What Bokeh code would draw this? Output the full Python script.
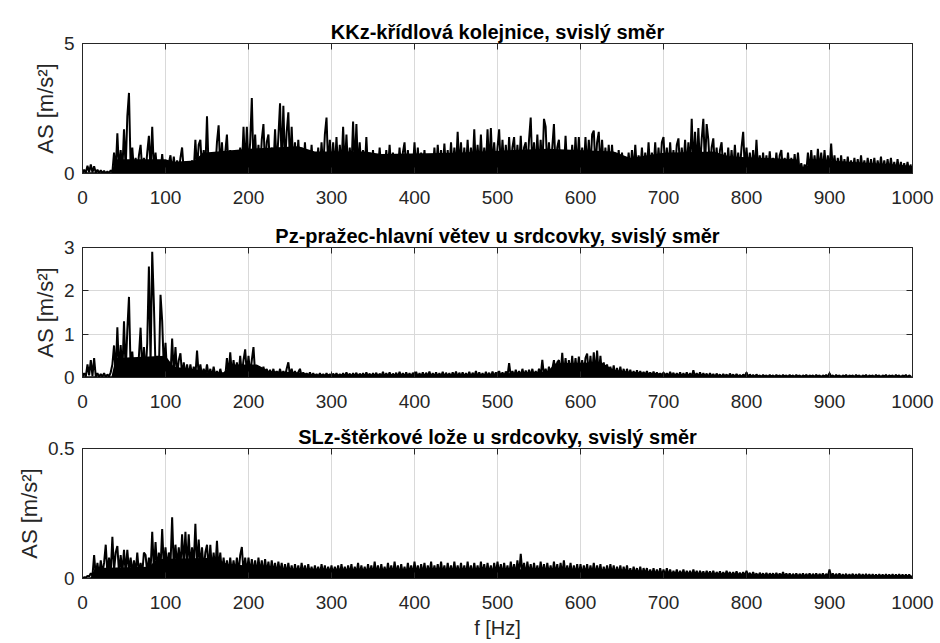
import numpy as np
from bokeh.plotting import figure
from bokeh.layouts import column
from bokeh.models import LinearAxis, FixedTicker, Range1d
from bokeh.embed import file_html
from bokeh.resources import INLINE

# ---------------- data ----------------
freq_step_hz = 2  # spacing of the listed spectrum values

titles = [
    "KKz-křídlová kolejnice, svislý směr",
    "Pz-pražec-hlavní větev u srdcovky, svislý směr",
    "SLz-štěrkové lože u srdcovky, svislý směr",
]
y_label = "AS [m/s²]"
x_label = "f [Hz]"
x_ticks = [0, 100, 200, 300, 400, 500, 600, 700, 800, 900, 1000]

kk_ticks = [0, 5]
pz_ticks = [0, 1, 2, 3]
sl_ticks = [0, 0.5]

kk_amp = [
    0.02,0.15,0.03,0.3,0.05,0.35,0.04,0.28,0.03,0.15,0.02,0.12,0.02,0.1,0.01,0.08,0.02,0.12,0.05,0.8,0.08,1.55,0.1,0.9,0.1,
    1.7,0.15,2.2,3.1,0.2,1.0,0.08,0.6,0.05,0.7,1.1,0.1,0.6,0.05,0.8,1.45,0.12,1.8,0.1,0.8,0.05,0.5,0.04,0.75,0.05,
    0.5,0.05,0.4,0.7,0.06,0.65,0.04,0.5,0.05,0.6,1.0,0.08,0.45,0.04,0.4,0.06,0.5,0.08,1.3,0.15,1.1,1.3,0.12,0.9,0.15,
    2.2,0.12,0.6,0.06,0.7,0.1,1.2,1.85,0.15,1.2,0.1,0.8,1.5,0.1,0.9,0.08,0.6,0.05,0.55,0.1,1.0,0.12,1.8,0.15,1.8,
    0.2,1.2,2.9,0.25,1.5,0.15,1.1,0.1,1.3,1.9,0.2,1.2,1.5,0.15,1.0,0.2,1.7,0.25,1.4,2.7,0.3,2.6,0.3,1.6,2.35,
    0.25,1.8,0.2,1.2,0.1,1.3,0.15,1.0,0.1,1.2,0.12,0.9,0.08,1.1,0.1,0.8,0.06,1.0,0.1,1.2,0.15,1.5,2.15,0.2,1.3,
    0.1,1.2,0.15,1.4,0.1,1.1,0.2,1.8,0.15,1.5,0.1,1.0,0.15,2.0,0.2,1.9,0.15,1.2,0.1,0.9,0.08,1.4,0.1,0.8,0.06,
    0.9,0.07,0.7,0.08,1.0,0.1,0.6,0.06,0.9,0.1,1.1,0.1,0.8,0.06,0.7,0.08,1.0,0.1,0.8,1.2,0.1,0.9,0.06,0.7,0.1,
    1.2,0.1,1.0,0.06,0.8,0.1,0.9,0.05,0.6,0.04,0.7,0.1,1.0,0.1,1.1,0.15,0.9,0.1,1.15,0.15,0.9,0.1,1.2,0.15,1.0,
    0.15,1.6,0.2,1.2,0.1,1.0,0.15,1.3,0.15,1.0,0.2,1.7,0.15,1.1,0.2,1.5,0.15,1.0,0.2,1.7,0.15,1.75,0.2,1.2,0.15,
    1.0,1.7,0.15,1.3,0.2,1.1,0.1,1.4,0.15,1.0,1.4,0.15,1.1,0.2,1.45,0.15,1.0,1.2,0.15,1.3,2.15,0.2,1.2,0.15,1.5,
    0.2,1.3,0.15,2.1,1.8,0.15,1.2,0.1,1.0,1.9,0.15,1.0,1.3,0.1,0.9,0.1,1.45,0.15,0.9,0.1,1.1,0.1,1.4,0.15,1.4,
    0.1,1.0,0.15,1.4,0.2,1.3,0.15,1.5,1.65,0.2,1.2,1.6,0.2,1.3,0.15,1.0,0.1,1.1,0.1,1.1,0.1,0.8,0.06,0.9,0.1,
    0.8,0.06,0.6,0.06,0.8,0.08,0.9,0.1,1.1,0.1,0.7,0.06,1.0,0.1,0.8,0.1,1.2,0.1,0.8,0.1,1.2,0.1,1.0,0.1,1.2,
    1.4,0.15,1.0,0.1,1.2,0.15,0.9,0.1,1.1,1.35,0.15,1.0,0.15,1.3,0.2,1.2,0.2,2.1,0.25,1.6,0.2,1.75,0.2,1.3,2.1,
    0.25,1.9,1.3,0.15,1.0,1.35,0.15,1.0,0.1,0.9,1.2,0.1,0.8,0.1,1.0,0.1,0.9,0.1,1.1,0.1,0.8,0.1,1.0,1.6,0.15,
    1.0,0.1,0.8,0.08,0.9,0.1,1.3,0.1,0.7,0.06,0.8,0.06,0.7,0.08,0.85,0.06,0.6,0.06,0.8,0.06,0.7,0.9,0.06,0.6,0.06,
    0.8,0.06,0.6,0.06,0.75,0.06,0.8,0.04,0.4,0.03,0.35,0.04,0.8,0.06,0.9,0.1,0.7,0.06,0.95,0.1,0.8,0.06,0.9,0.1,0.7,
    0.1,1.15,0.1,0.7,0.06,0.6,0.06,0.7,0.05,0.55,0.06,0.65,0.05,0.5,0.06,0.6,0.05,0.55,0.06,0.7,0.06,0.5,0.05,0.6,0.06,
    0.55,0.05,0.6,0.06,0.5,0.05,0.65,0.06,0.5,0.05,0.55,0.05,0.6,0.06,0.45,0.05,0.55,0.04,0.45,0.05,0.4,0.04,0.45,0.04,0.35,
]
# upper edge of the solid dark band of the trace
kk_band_f = [0, 35, 40, 100, 110, 135, 145, 200, 260, 280, 340, 360, 450, 520, 560, 640, 660, 700, 760, 780, 860, 865, 872, 880, 900, 1000]
kk_band = [0.05, 0.05, 0.55, 0.55, 0.45, 0.5, 0.8, 0.95, 1.05, 0.85, 0.85, 0.75, 0.8, 0.9, 0.95, 0.85, 0.6, 0.8, 0.85, 0.65, 0.55, 0.25, 0.25, 0.55, 0.5, 0.3]

pz_amp = [
    0.02,0.1,0.02,0.3,0.05,0.4,0.03,0.45,0.02,0.1,0.01,0.08,0.02,0.1,0.01,0.07,0.02,0.12,0.3,0.74,0.05,1.16,0.1,0.75,0.08,
    1.3,0.1,1.1,1.86,0.15,0.6,0.05,0.4,0.05,0.5,1.15,0.1,0.7,0.05,0.8,2.56,0.3,2.9,1.7,0.2,0.5,0.1,1.91,1.3,0.2,
    0.8,0.05,0.3,0.05,0.9,0.08,0.7,0.05,0.4,0.56,0.04,0.35,0.05,0.3,0.03,0.3,0.04,0.25,0.04,0.62,0.05,0.3,0.03,0.2,0.04,
    0.3,0.03,0.2,0.02,0.25,0.03,0.15,0.02,0.2,0.03,0.1,0.02,0.45,0.05,0.58,0.06,0.4,0.05,0.35,0.04,0.5,0.06,0.4,0.65,0.08,
    0.5,0.06,0.4,0.7,0.08,0.25,0.03,0.2,0.03,0.25,0.03,0.2,0.02,0.18,0.03,0.2,0.02,0.15,0.03,0.2,0.02,0.15,0.03,0.2,0.35,
    0.04,0.2,0.03,0.15,0.02,0.12,0.2,0.03,0.12,0.02,0.1,0.02,0.12,0.02,0.1,0.02,0.08,0.01,0.1,0.02,0.08,0.01,0.1,0.02,0.08,
    0.01,0.09,0.02,0.1,0.01,0.08,0.02,0.1,0.01,0.12,0.02,0.09,0.01,0.1,0.02,0.11,0.01,0.09,0.02,0.1,0.01,0.12,0.02,0.09,0.01,
    0.1,0.02,0.11,0.01,0.09,0.02,0.13,0.01,0.1,0.02,0.12,0.01,0.09,0.02,0.11,0.01,0.13,0.02,0.1,0.01,0.12,0.02,0.1,0.01,0.11,
    0.02,0.13,0.01,0.1,0.02,0.12,0.01,0.11,0.02,0.14,0.01,0.1,0.02,0.12,0.01,0.1,0.02,0.13,0.01,0.11,0.02,0.1,0.01,0.12,0.02,
    0.14,0.01,0.11,0.02,0.12,0.01,0.1,0.02,0.13,0.01,0.11,0.02,0.15,0.01,0.12,0.02,0.1,0.01,0.13,0.02,0.11,0.01,0.14,0.02,0.12,
    0.02,0.15,0.02,0.12,0.02,0.14,0.03,0.33,0.03,0.15,0.02,0.18,0.03,0.15,0.02,0.2,0.03,0.16,0.02,0.18,0.03,0.2,0.02,0.15,0.03,
    0.2,0.03,0.41,0.04,0.2,0.03,0.25,0.04,0.2,0.4,0.05,0.35,0.4,0.06,0.57,0.05,0.45,0.06,0.4,0.05,0.5,0.06,0.45,0.05,0.48,
    0.06,0.4,0.05,0.45,0.55,0.06,0.5,0.05,0.58,0.06,0.62,0.05,0.5,0.04,0.35,0.04,0.3,0.03,0.25,0.03,0.28,0.03,0.22,0.02,0.25,
    0.03,0.2,0.02,0.2,0.03,0.18,0.02,0.15,0.02,0.17,0.02,0.15,0.02,0.13,0.02,0.15,0.02,0.12,0.02,0.14,0.02,0.12,0.02,0.1,0.02,
    0.12,0.02,0.1,0.01,0.13,0.02,0.11,0.01,0.1,0.02,0.12,0.01,0.1,0.02,0.12,0.01,0.1,0.02,0.17,0.01,0.1,0.02,0.12,0.01,0.1,
    0.02,0.09,0.01,0.1,0.02,0.08,0.01,0.09,0.02,0.07,0.01,0.08,0.02,0.07,0.01,0.09,0.02,0.07,0.01,0.08,0.02,0.06,0.01,0.07,0.02,
    0.12,0.01,0.07,0.02,0.06,0.01,0.07,0.02,0.05,0.01,0.06,0.02,0.05,0.01,0.06,0.02,0.05,0.01,0.06,0.02,0.05,0.01,0.06,0.02,0.05,
    0.01,0.06,0.02,0.05,0.01,0.06,0.02,0.05,0.01,0.05,0.02,0.06,0.01,0.05,0.02,0.05,0.01,0.06,0.02,0.05,0.01,0.05,0.02,0.06,0.01,
    0.1,0.02,0.05,0.01,0.06,0.02,0.05,0.01,0.05,0.02,0.06,0.01,0.05,0.02,0.05,0.01,0.06,0.02,0.05,0.01,0.05,0.02,0.06,0.01,0.05,
    0.02,0.05,0.01,0.06,0.02,0.05,0.01,0.05,0.02,0.06,0.01,0.05,0.02,0.05,0.01,0.06,0.02,0.05,0.01,0.05,0.02,0.06,0.01,0.05,0.02,
]
pz_band_f = [0, 35, 40, 100, 110, 140, 150, 170, 180, 210, 225, 260, 280, 500, 520, 560, 570, 625, 640, 660, 700, 760, 1000]
pz_band = [0.03, 0.03, 0.45, 0.5, 0.25, 0.18, 0.12, 0.12, 0.3, 0.3, 0.15, 0.12, 0.07, 0.08, 0.11, 0.14, 0.33, 0.35, 0.18, 0.13, 0.09, 0.05, 0.03]

sl_amp = [
    0.0,0.005,0.004,0.01,0.008,0.02,0.01,0.09,0.01,0.06,0.01,0.07,0.02,0.06,0.13,0.02,0.08,0.02,0.16,0.03,0.1,0.125,0.02,0.09,0.02,
    0.11,0.02,0.11,0.03,0.08,0.02,0.07,0.02,0.1,0.02,0.06,0.02,0.1,0.09,0.02,0.08,0.03,0.18,0.03,0.14,0.03,0.1,0.04,0.19,0.04,
    0.12,0.04,0.1,0.05,0.235,0.04,0.13,0.05,0.12,0.04,0.17,0.05,0.18,0.04,0.17,0.04,0.12,0.05,0.21,0.04,0.15,0.04,0.12,0.03,0.1,
    0.13,0.03,0.13,0.03,0.1,0.03,0.145,0.03,0.1,0.02,0.08,0.02,0.07,0.02,0.08,0.02,0.07,0.02,0.08,0.02,0.09,0.121,0.02,0.08,0.02,
    0.08,0.02,0.075,0.02,0.07,0.015,0.08,0.02,0.07,0.015,0.075,0.02,0.065,0.015,0.07,0.02,0.06,0.015,0.065,0.02,0.06,0.01,0.055,0.015,0.06,
    0.015,0.05,0.01,0.055,0.015,0.05,0.01,0.06,0.015,0.05,0.01,0.055,0.015,0.045,0.01,0.05,0.015,0.045,0.01,0.055,0.015,0.05,0.01,0.045,0.015,
    0.05,0.01,0.045,0.015,0.05,0.01,0.055,0.015,0.045,0.01,0.05,0.015,0.055,0.01,0.045,0.015,0.06,0.01,0.05,0.015,0.045,0.01,0.055,0.015,0.05,
    0.01,0.065,0.015,0.05,0.01,0.055,0.015,0.045,0.01,0.06,0.015,0.05,0.01,0.065,0.015,0.05,0.01,0.055,0.015,0.045,0.01,0.06,0.015,0.05,0.01,
    0.065,0.015,0.05,0.01,0.055,0.015,0.06,0.01,0.05,0.015,0.065,0.01,0.05,0.015,0.055,0.01,0.065,0.015,0.05,0.01,0.06,0.015,0.05,0.01,0.065,
    0.015,0.05,0.01,0.06,0.015,0.05,0.01,0.065,0.015,0.05,0.01,0.06,0.015,0.05,0.01,0.065,0.015,0.055,0.01,0.06,0.015,0.05,0.01,0.06,0.015,
    0.065,0.015,0.055,0.01,0.06,0.015,0.05,0.01,0.065,0.015,0.055,0.01,0.07,0.015,0.095,0.02,0.06,0.01,0.065,0.015,0.055,0.01,0.06,0.015,0.05,
    0.01,0.065,0.015,0.055,0.01,0.06,0.015,0.05,0.01,0.065,0.015,0.055,0.01,0.06,0.015,0.07,0.01,0.05,0.015,0.06,0.01,0.05,0.015,0.055,0.01,
    0.055,0.01,0.05,0.015,0.055,0.01,0.05,0.015,0.06,0.01,0.05,0.015,0.055,0.01,0.045,0.015,0.05,0.01,0.055,0.015,0.05,0.01,0.045,0.015,0.05,
    0.01,0.045,0.015,0.05,0.01,0.04,0.01,0.045,0.015,0.04,0.01,0.045,0.01,0.04,0.015,0.04,0.01,0.035,0.01,0.04,0.01,0.035,0.01,0.04,0.01,
    0.035,0.01,0.04,0.01,0.035,0.008,0.03,0.01,0.035,0.008,0.03,0.01,0.035,0.008,0.03,0.01,0.03,0.008,0.035,0.01,0.03,0.008,0.03,0.01,0.028,
    0.008,0.03,0.01,0.028,0.008,0.03,0.008,0.025,0.01,0.028,0.008,0.025,0.008,0.03,0.01,0.025,0.008,0.025,0.008,0.028,0.008,0.022,0.008,0.025,0.008,
    0.03,0.008,0.022,0.006,0.025,0.008,0.02,0.006,0.022,0.008,0.02,0.006,0.022,0.006,0.02,0.008,0.02,0.006,0.022,0.006,0.02,0.006,0.025,0.006,0.02,
    0.006,0.02,0.005,0.018,0.006,0.02,0.005,0.018,0.006,0.02,0.005,0.018,0.006,0.02,0.005,0.018,0.006,0.02,0.005,0.018,0.006,0.02,0.005,0.018,0.006,
    0.035,0.006,0.02,0.005,0.018,0.006,0.02,0.005,0.016,0.006,0.018,0.005,0.016,0.006,0.018,0.005,0.016,0.006,0.018,0.005,0.016,0.005,0.018,0.005,0.016,
    0.005,0.016,0.005,0.015,0.005,0.016,0.005,0.015,0.005,0.016,0.005,0.015,0.005,0.016,0.005,0.015,0.005,0.016,0.005,0.015,0.005,0.015,0.005,0.015,0.005,
]
sl_band_f = [0, 10, 15, 80, 90, 160, 175, 200, 250, 650, 700, 800, 1000]
sl_band = [0.003, 0.005, 0.04, 0.045, 0.075, 0.08, 0.055, 0.05, 0.038, 0.035, 0.024, 0.015, 0.012]

# ---------------- styling ----------------
FONT = "Liberation Sans"
TXT = "#262626"
GRID = "#d9d9d9"
TICK_FS = "19px"


def tick_only_axis(ticker):
    # axis that only draws inward tick marks (no labels)
    ax = LinearAxis(ticker=ticker)
    ax.major_label_text_color = None
    ax.major_label_text_font_size = "1px"
    ax.major_label_standoff = 0
    ax.major_tick_in = 6
    ax.major_tick_out = 0
    ax.minor_tick_line_color = None
    ax.axis_line_color = TXT
    ax.major_tick_line_color = TXT
    return ax


def make_panel(title, amp, band_f, band, ymax, yticks, top, bottom, overrides=None, xlab=None):
    f = np.arange(len(amp)) * freq_step_hz
    p = figure(frame_width=830, frame_height=130,
               x_range=Range1d(0, 1000), y_range=Range1d(0, ymax),
               output_backend="svg", toolbar_location=None,
               min_border_left=82, min_border_right=28,
               min_border_top=top, min_border_bottom=bottom)
    p.varea(x=band_f, y1=0, y2=band, fill_color="black")
    p.line(f, amp, line_color="black", line_width=2.0)

    p.title.text = title
    p.title.align = "center"
    p.title.text_font = FONT
    p.title.text_font_size = "20px"
    p.title.text_font_style = "bold"
    p.title.text_color = "black"
    p.title.standoff = 2

    p.outline_line_color = TXT
    p.outline_line_width = 1

    xt = FixedTicker(ticks=x_ticks)
    yt = FixedTicker(ticks=yticks)

    xa = p.xaxis[0]
    xa.ticker = xt
    ya = p.yaxis[0]
    ya.ticker = yt
    for ax in (xa, ya):
        ax.major_tick_in = 6
        ax.major_tick_out = 0
        ax.minor_tick_line_color = None
        ax.axis_line_color = TXT
        ax.major_tick_line_color = TXT
        ax.major_label_text_font = FONT
        ax.major_label_text_font_size = TICK_FS
        ax.major_label_text_color = TXT
        ax.axis_label_text_font = FONT
        ax.axis_label_text_font_size = "22px"
        ax.axis_label_text_font_style = "normal"
        ax.axis_label_text_color = TXT
    xa.major_label_standoff = 17
    ya.major_label_standoff = 8
    ya.axis_label = y_label
    ya.axis_label_standoff = 3
    if overrides:
        ya.major_label_overrides = overrides
    if xlab:
        xa.axis_label = xlab
        xa.axis_label_standoff = 5
        xa.axis_label_text_font_size = "20px"

    p.add_layout(tick_only_axis(FixedTicker(ticks=x_ticks)), "above")
    p.add_layout(tick_only_axis(FixedTicker(ticks=yticks)), "right")

    p.xgrid.ticker = xt
    p.ygrid.ticker = yt
    p.xgrid.grid_line_color = GRID
    p.ygrid.grid_line_color = GRID
    return p


p1 = make_panel(titles[0], kk_amp, kk_band_f, kk_band, 5, kk_ticks, top=43, bottom=40)
p2 = make_panel(titles[1], pz_amp, pz_band_f, pz_band, 3, pz_ticks, top=34, bottom=37)
p3 = make_panel(titles[2], sl_amp, sl_band_f, sl_band, 0.5, sl_ticks, top=34, bottom=65,
                overrides={0: "0", 0.5: "0.5"}, xlab=x_label)

layout = column(p1, p2, p3, spacing=0)

with open("out.html", "w") as fh:
    fh.write(file_html(layout, INLINE))
